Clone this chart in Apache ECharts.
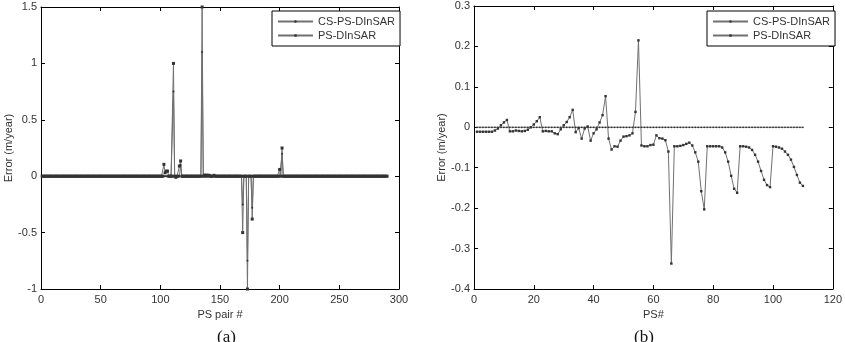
<!DOCTYPE html>
<html lang="en">
<head>
    <meta charset="UTF-8">
    <title>Error comparison</title>
    <style>
        body { margin: 0; background: #fff; }
    </style>
</head>
<body>

<div id="main" style="width: 845px;height:342px;"></div>

<script src="https://cdn.jsdelivr.net/npm/echarts@6/dist/echarts.min.js" charset="utf-8"></script>

<script type="text/javascript">

    // ---- (a) PS pair #, 1..290 ----
    var pairCount = 290;
    // every point not listed here reads as 0
    var psSpikeX = [103, 104, 105, 106, 111, 113, 116, 117, 135, 137, 139, 141, 145, 169, 173, 177, 200, 202];
    var psSpikeY = [0.105, 0.03, 0.045, 0.045, 1.0, -0.01, 0.09, 0.135, 1.5, 0.01, 0.01, 0.008, 0.008, -0.5, -1.0, -0.38, 0.06, 0.25];
    var csSpikeX = [111, 117, 135, 169, 173, 177, 202];
    var csSpikeY = [0.75, 0.1, 1.1, -0.25, -0.75, -0.28, 0.2];

    // ---- (b) PS#, 1..110 ----
    var psNo = [];
    for (var i = 1; i <= 110; i++) psNo.push(i);
    var psB = [
        -0.011, -0.011, -0.011, -0.011, -0.011, -0.011, -0.008, -0.003, 0.005, 0.012, 0.018,
        -0.010, -0.010, -0.008, -0.009, -0.010, -0.009, -0.006, 0.000, 0.007, 0.015, 0.025,
        -0.010, -0.009, -0.010, -0.010, -0.015, -0.017, -0.005, 0.005, 0.013, 0.025, 0.043,
        -0.012, -0.002, -0.028, -0.003, 0.002, -0.033, -0.015, -0.005, 0.012, 0.030, 0.077,
        -0.028, -0.055, -0.047, -0.048, -0.033, -0.023, -0.022, -0.020, -0.015, 0.038, 0.215,
        -0.045, -0.047, -0.047, -0.044, -0.043, -0.020, -0.027, -0.028, -0.032, -0.060, -0.337,
        -0.047, -0.047, -0.046, -0.044, -0.041, -0.038, -0.045, -0.062, -0.085, -0.158, -0.203,
        -0.047, -0.047, -0.047, -0.047, -0.047, -0.050, -0.062, -0.085, -0.120, -0.152, -0.162,
        -0.047, -0.047, -0.048, -0.050, -0.056, -0.068, -0.085, -0.108, -0.130, -0.143, -0.148,
        -0.047, -0.048, -0.050, -0.053, -0.060, -0.068, -0.080, -0.098, -0.118, -0.137, -0.145
    ];
    // CS-PS-DInSAR in (b) sits on 0 at every PS
    var csB = 0;

    var lineColor = '#707070';
    var dotColor = '#333';
    var font = 'Liberation Sans, Arial, sans-serif';

    function spread(xs, ys, n) {
        var out = [];
        for (var k = 1; k <= n; k++) {
            var idx = xs.indexOf(k);
            out.push([k, idx >= 0 ? ys[idx] : 0]);
        }
        return out;
    }

    var leftPS = spread(psSpikeX, psSpikeY, pairCount);
    var leftCS = spread(csSpikeX, csSpikeY, pairCount);
    var rightPS = psNo.map(function (x, k) { return [x, psB[k]]; });
    var rightCS = psNo.map(function (x) { return [x, csB]; });

    function xAx(idx, min, max, step, name, top) {
        return {
            type: 'value', gridIndex: idx, min: min, max: max, interval: step,
            position: top ? 'top' : 'bottom',
            name: top ? '' : name, nameLocation: 'middle', nameGap: 16,
            nameTextStyle: {color: '#333', fontSize: 11, fontFamily: font},
            axisLine: {show: true, onZero: false, lineStyle: {color: '#000', width: 1}},
            axisTick: {show: true, inside: true, length: 4, lineStyle: {color: '#000'}},
            axisLabel: {show: !top, color: '#333', fontSize: 11, fontFamily: font, margin: 5},
            splitLine: {show: false}
        };
    }

    function yAx(idx, min, max, step, right) {
        return {
            type: 'value', gridIndex: idx, min: min, max: max, interval: step,
            position: right ? 'right' : 'left',
            name: right ? '' : 'Error (m/year)', nameLocation: 'middle', nameGap: 27,
            nameTextStyle: {color: '#333', fontSize: 11, fontFamily: font},
            axisLine: {show: true, onZero: false, lineStyle: {color: '#000', width: 1}},
            axisTick: {show: true, inside: true, length: 4, lineStyle: {color: '#000'}},
            axisLabel: {show: !right, color: '#333', fontSize: 11, fontFamily: font, margin: 4},
            splitLine: {show: false}
        };
    }

    function legendAt(left) {
        return {
            orient: 'vertical', left: left, top: 11,
            data: ['CS-PS-DInSAR', 'PS-DInSAR'],
            backgroundColor: '#fff', borderColor: '#000', borderWidth: 1,
            padding: [5, 5, 5, 5], itemGap: 3, itemWidth: 35, itemHeight: 3,
            textStyle: {color: '#333', fontSize: 11, fontFamily: font},
            selectedMode: false
        };
    }

    var myChart = echarts.init(document.getElementById('main'));

    var option = {
        animation: false,
        backgroundColor: '#fff',
        grid: [
            {left: 41, right: 446, top: 7, bottom: 53},
            {left: 474, right: 12, top: 6, bottom: 53}
        ],
        xAxis: [
            xAx(0, 0, 300, 50, 'PS pair #', false),
            xAx(0, 0, 300, 50, '', true),
            xAx(1, 0, 120, 20, 'PS#', false),
            xAx(1, 0, 120, 20, '', true)
        ],
        yAxis: [
            yAx(0, -1, 1.5, 0.5, false),
            yAx(0, -1, 1.5, 0.5, true),
            yAx(1, -0.4, 0.3, 0.1, false),
            yAx(1, -0.4, 0.3, 0.1, true)
        ],
        legend: [legendAt(272), legendAt(707)],
        graphic: [
            {type: 'text', left: 217, top: 329, style: {text: '(a)', font: '17px "Liberation Serif", serif', fill: '#111'}},
            {type: 'text', left: 634, top: 329, style: {text: '(b)', font: '17px "Liberation Serif", serif', fill: '#111'}}
        ],
        series: [
            {
                name: 'CS-PS-DInSAR', type: 'line', xAxisIndex: 0, yAxisIndex: 0,
                data: leftCS, symbol: 'circle', symbolSize: 2,
                lineStyle: {color: lineColor, width: 1}, itemStyle: {color: dotColor}
            },
            {
                name: 'PS-DInSAR', type: 'line', xAxisIndex: 0, yAxisIndex: 0,
                data: leftPS, symbol: 'rect', symbolSize: 3,
                lineStyle: {color: lineColor, width: 1}, itemStyle: {color: dotColor}
            },
            {
                name: 'CS-PS-DInSAR', type: 'line', xAxisIndex: 2, yAxisIndex: 2,
                data: rightCS, symbol: 'circle', symbolSize: 1.8,
                lineStyle: {color: lineColor, width: 1}, itemStyle: {color: dotColor}
            },
            {
                name: 'PS-DInSAR', type: 'line', xAxisIndex: 2, yAxisIndex: 2,
                data: rightPS, symbol: 'rect', symbolSize: 2.4,
                lineStyle: {color: lineColor, width: 1}, itemStyle: {color: dotColor}
            }
        ]
    };

    myChart.setOption(option);

</script>
</body>

</html>
